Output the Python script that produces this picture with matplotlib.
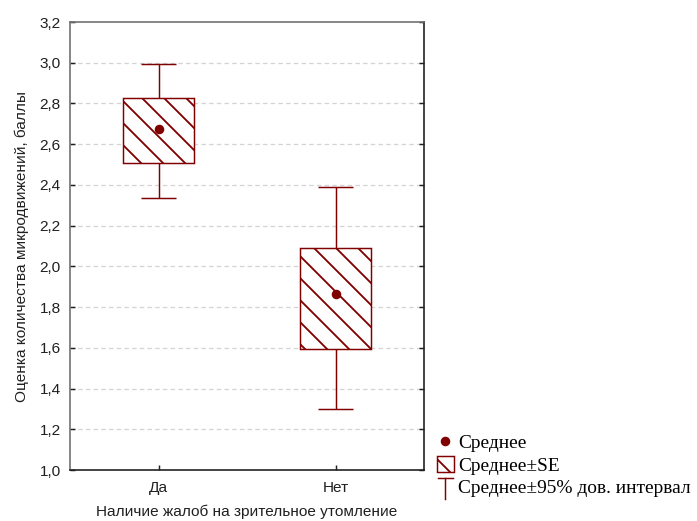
import matplotlib
matplotlib.use("Agg")
import matplotlib.pyplot as plt
from matplotlib.patches import Rectangle, Patch
from matplotlib.lines import Line2D
from matplotlib.legend_handler import HandlerBase

categories = ["Да", "Нет"]
means = [2.674, 1.864]
se_low = [2.507, 1.594]
se_high = [2.827, 2.090]
ci_low = [2.336, 1.299]
ci_high = [2.994, 2.390]
yticks = [1.0, 1.2, 1.4, 1.6, 1.8, 2.0, 2.2, 2.4, 2.6, 2.8, 3.0, 3.2]

DPI = 132
W, H = 697, 521
COLOR = "#800000"

plt.rcParams["hatch.linewidth"] = 1.0
plt.rcParams["hatch.color"] = COLOR
plt.rcParams["font.family"] = ["Liberation Sans", "DejaVu Sans"]

fig = plt.figure(figsize=(W / DPI, H / DPI), dpi=DPI)
ax = fig.add_axes([70 / W, 1 - 470 / H, (424 - 70) / W, (470 - 22) / H])

box_w = 0.40
cap_w = 0.20
for i, cat in enumerate(categories):
    ax.vlines(i, ci_low[i], se_low[i], color=COLOR, lw=0.8, zorder=3)
    ax.vlines(i, se_high[i], ci_high[i], color=COLOR, lw=0.8, zorder=3)
    ax.hlines([ci_low[i], ci_high[i]], i - cap_w / 2, i + cap_w / 2, color=COLOR, lw=0.8, zorder=3)
    rect = Rectangle((i - box_w / 2, se_low[i]), box_w, se_high[i] - se_low[i],
                     facecolor="white", edgecolor=COLOR, hatch="\\\\", lw=0.8, zorder=3)
    ax.add_patch(rect)
    ax.plot(i, means[i], "o", color=COLOR, ms=4.2, zorder=4)

ax.set_xlim(-0.5, 1.5)
ax.set_ylim(1.0, 3.2)
ax.set_xticks(range(len(categories)))
ax.set_xticklabels(categories)
ax.set_yticks(yticks)
ax.set_yticklabels([f"{v:.1f}".replace(".", ",") for v in yticks])
ax.tick_params(direction="in", length=2.5, width=0.8, labelsize=8.4, right=True, colors="#202020")
ax.tick_params(axis="x", pad=6)
ax.tick_params(axis="y", pad=5)
for y in yticks[1:-1]:
    ax.axhline(y, color="#d4d4d4", lw=0.7, ls=(0, (3.5, 2.5)), zorder=1)
for s in ["top", "left"]:
    ax.spines[s].set_color("#707070")
for s in ["right", "bottom"]:
    ax.spines[s].set_color("#202020")
for s in ax.spines.values():
    s.set_linewidth(0.9)

ax.set_xlabel("Наличие жалоб на зрительное утомление", fontsize=8.4, labelpad=5, color="#202020")
ax.set_ylabel("Оценка количества микродвижений, баллы", fontsize=8.4, labelpad=6, color="#202020")


class ErrHandler(HandlerBase):
    def create_artists(self, legend, orig_handle, xdescent, ydescent, width, height, fontsize, trans):
        cx = width / 2 - xdescent
        top = height * 0.9
        bot = -height * 0.35
        l1 = Line2D([cx, cx], [bot, top], color=COLOR, lw=0.8, transform=trans)
        l2 = Line2D([cx - width * 0.45, cx + width * 0.45], [top, top], color=COLOR, lw=0.8, transform=trans)
        return [l1, l2]


h1 = Line2D([], [], marker="o", ls="none", color=COLOR, ms=4.2)
h2 = Patch(facecolor="white", edgecolor=COLOR, hatch="\\\\", lw=0.8)
h3 = Line2D([], [])
leg = fig.legend([h1, h2, h3], ["Среднее", "Среднее±SE", "Среднее±95% дов. интервал"],
                 handler_map={h3: ErrHandler()},
                 loc="upper left", bbox_to_anchor=(437 / W, 1 - 433 / H),
                 frameon=False, prop={"family": "Liberation Serif", "size": 10.6},
                 handlelength=0.85, handleheight=0.95, handletextpad=0.25, labelspacing=0.18,
                 borderpad=0, borderaxespad=0)

fig.savefig("out.png", dpi=DPI)
